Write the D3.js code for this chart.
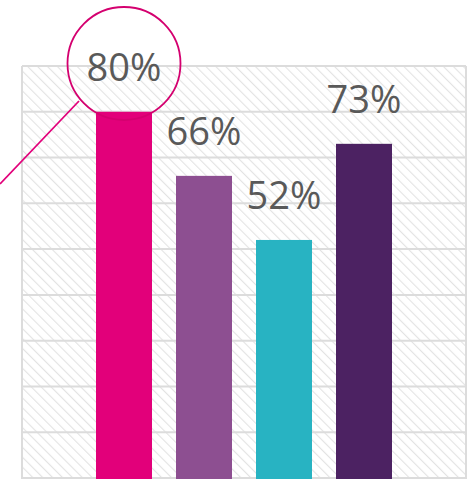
<!DOCTYPE html>
<html>
<head>
<meta charset="utf-8">
<script src="https://cdn.jsdelivr.net/npm/d3@7/dist/d3.min.js"></script>
<style>
  html, body { margin: 0; padding: 0; background: #fff; }
  svg { display: block; }
</style>
</head>
<body>
<svg id="chart" width="470" height="479"></svg>
<script>
const categories = ["A", "B", "C", "D"];
const values = [0.80, 0.66, 0.52, 0.73];
const labels = ["80%", "66%", "52%", "73%"];
const colors = ["#e2007a", "#8d4f91", "#28b3c2", "#4c2262"];
const gridTicks = [0, 0.1, 0.2, 0.3, 0.4, 0.5, 0.6, 0.7, 0.8, 0.9];

const svg = d3.select("#chart");
const plotLeft = 22, plotRight = 466, plotTop = 66, plotBottom = 478;

const x = d3.scaleBand().domain(categories).range([plotLeft, plotRight])
  .paddingInner(0.3).paddingOuter(0.925);
const y = d3.scaleLinear().domain([0, 0.9]).range([plotBottom, plotTop]);

const defs = svg.append("defs");
const pat = defs.append("pattern")
  .attr("id", "hatch").attr("patternUnits", "userSpaceOnUse")
  .attr("width", 7).attr("height", 7)
  .attr("patternTransform", "rotate(-45)");
pat.append("rect").attr("width", 7).attr("height", 7).attr("fill", "#ffffff");
pat.append("line").attr("x1", 0).attr("y1", 0).attr("x2", 0).attr("y2", 7)
  .attr("stroke", "#e3e3e3").attr("stroke-width", 2.2);

// plot background with hatch
svg.append("rect")
  .attr("x", plotLeft).attr("y", plotTop)
  .attr("width", plotRight - plotLeft).attr("height", 479 - plotTop + 5)
  .attr("fill", "url(#hatch)");

// grid lines
svg.append("g").selectAll("line").data(gridTicks).join("line")
  .attr("x1", plotLeft).attr("x2", plotRight)
  .attr("y1", d => y(d)).attr("y2", d => y(d))
  .attr("stroke", "#dcdcdc").attr("stroke-width", 2);

// border verticals
svg.append("line").attr("x1", plotLeft).attr("x2", plotLeft).attr("y1", plotTop).attr("y2", 479)
  .attr("stroke", "#dcdcdc").attr("stroke-width", 2);
svg.append("line").attr("x1", plotRight).attr("x2", plotRight).attr("y1", plotTop).attr("y2", 479)
  .attr("stroke", "#dcdcdc").attr("stroke-width", 2);

// bars
svg.append("g").selectAll("rect").data(categories).join("rect")
  .attr("x", d => x(d))
  .attr("width", x.bandwidth())
  .attr("y", (d, i) => y(values[i]))
  .attr("height", (d, i) => y(0) - y(values[i]) + 10)
  .attr("fill", (d, i) => colors[i]);

// labels
svg.append("g").selectAll("text").data(categories).join("text")
  .attr("x", d => x(d) + x.bandwidth() / 2)
  .attr("y", (d, i) => y(values[i]) - 31)
  .attr("text-anchor", "middle")
  .attr("font-family", "'Open Sans', sans-serif")
  .attr("font-size", 38)
  .attr("fill", "#595959")
  .text((d, i) => labels[i]);

// highlight circle and pointer line
const cx = x(categories[0]) + x.bandwidth() / 2;
const cy = 63.5;
svg.append("circle").attr("cx", cx).attr("cy", cy).attr("r", 56.5)
  .attr("fill", "none").attr("stroke", "#d4006f").attr("stroke-width", 1.8);
svg.append("line")
  .attr("x1", 0).attr("y1", 184).attr("x2", 79).attr("y2", 101)
  .attr("stroke", "#e2007a").attr("stroke-width", 1.8);
</script>
</body>
</html>
